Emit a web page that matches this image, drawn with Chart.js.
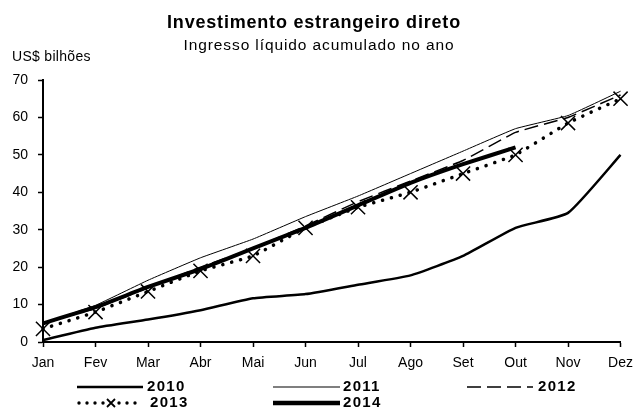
<!DOCTYPE html>
<html>
<head>
<meta charset="utf-8">
<script src="https://cdn.jsdelivr.net/npm/chart.js@4"></script>
<style>
body{margin:0;background:#fff;}
#wrap{position:relative;width:641px;height:414px;font-family:"Liberation Sans",Arial,sans-serif;color:#000;}
#title{position:absolute;left:0;width:628px;top:12px;text-align:center;font-weight:bold;font-size:18px;letter-spacing:0.8px;}
#sub{position:absolute;left:0;width:638px;top:36px;text-align:center;font-size:15.5px;letter-spacing:0.9px;}
#unit{position:absolute;left:12px;top:48px;font-size:14px;letter-spacing:0.3px;}
canvas{position:absolute;left:0;top:0;}
</style>
</head>
<body>
<div id="wrap">
<canvas id="c" width="641" height="414"></canvas>
<div id="title">Investimento estrangeiro direto</div>
<div id="sub">Ingresso líquido acumulado no ano</div>
<div id="unit">US$ bilhões</div>
</div>
<script>
let months = ['Jan','Fev','Mar','Abr','Mai','Jun','Jul','Ago','Set','Out','Nov','Dez'];
let y2010 = [0.5, 3.8, 6, 8.5, 11.7, 12.8, 15.3, 17.8, 23, 30.5, 34.5, 50];
let y2011 = [5, 9.8, 16.5, 22.5, 27.5, 33.5, 39, 45, 51, 57, 60.5, 67];
let y2012 = [5, 9, 14.5, 20, 25, 31, 37.5, 43, 48.5, 56, 60, 66];
let y2013 = [3.5, 8, 13.5, 19, 23, 30.5, 36, 40, 45, 50, 58.5, 65];
let y2014 = [5, 9.3, 14.7, 19.5, 25, 30.5, 36.5, 42.5, 47.5, 52, null, null];
let yTicks = [0, 10, 20, 30, 40, 50, 60, 70];

let fontName = '"Liberation Sans", Arial, sans-serif';

// legend drawn by hand, two rows under the axis
const legendPlugin = {
id: 'handLegend',
afterDraw(chart){
const c = chart.ctx;
const ds = chart.data.datasets;
c.save();
c.fillStyle = '#000';
c.strokeStyle = '#000';
c.font = 'bold 15px ' + fontName;
c.letterSpacing = '1.3px';
c.textBaseline = 'middle';

function line(x1, x2, y, w, dash){
c.beginPath();
c.lineWidth = w;
c.setLineDash(dash || []);
c.moveTo(x1, y);
c.lineTo(x2, y);
c.stroke();
c.setLineDash([]);
}

// 2010
line(77, 143, 387, 2.5);
c.fillText(ds[0].label, 147, 387);
// 2011
line(273, 340, 387, 1.2);
c.fillText(ds[1].label, 343, 387);
// 2012
line(467, 533, 387, 1.5, [14, 6]);
c.fillText(ds[2].label, 538, 387);
// 2013
for(let x = 79; x <= 140; x += 8){
if(Math.abs(x - 111) < 4) continue;
c.beginPath();
c.arc(x, 403, 1.7, 0, Math.PI*2);
c.fill();
}
c.beginPath();
c.lineWidth = 1.8;
c.moveTo(107, 399); c.lineTo(115, 407);
c.moveTo(115, 399); c.lineTo(107, 407);
c.stroke();
c.fillText(ds[3].label, 150, 403);
// 2014
line(273, 340, 403, 4.5);
c.fillText(ds[4].label, 343, 403);
c.restore();
}
};

const ctx = document.getElementById('c').getContext('2d');

new Chart(ctx, {
type: 'line',
data: {
labels: months,
datasets: [
{label: '2010', data: y2010, borderColor: '#000', borderWidth: 2.5, pointRadius: 0, tension: 0.15},
{label: '2011', data: y2011, borderColor: '#000', borderWidth: 1, pointRadius: 0, tension: 0.1},
{label: '2012', data: y2012, borderColor: '#000', borderWidth: 1.5, borderDash: [14, 6], pointRadius: 0, tension: 0.1},
{label: '2013', data: y2013, borderColor: '#000', borderWidth: 3.5, borderDash: [0.1, 9], borderCapStyle: 'round',
pointStyle: 'crossRot', pointRadius: 10, pointBorderWidth: 1.5, pointBorderColor: '#000', tension: 0.1},
{label: '2014', data: y2014, borderColor: '#000', borderWidth: 4, pointRadius: 0, tension: 0.1}
]
},
options: {
responsive: false,
animation: false,
layout: {padding: {top: 80, right: 18, left: 0, bottom: 0}},
plugins: {legend: {display: false}, tooltip: {enabled: false}},
scales: {
x: {
offset: false,
afterFit: s => { s.height = 72; },
grid: {drawOnChartArea: false, drawTicks: true, tickLength: 5, tickColor: '#000', tickWidth: 1.5},
border: {color: '#000', width: 2},
ticks: {color: '#000', font: {family: fontName, size: 14}, padding: 8, maxRotation: 0, autoSkip: false}
},
y: {
min: 0, max: 70,
afterFit: s => { s.width = 43; },
afterBuildTicks: s => { s.ticks = yTicks.map(v => ({value: v})); },
grid: {drawOnChartArea: false, drawTicks: true, tickLength: 5, tickColor: '#000', tickWidth: 1.5},
border: {color: '#000', width: 2},
ticks: {color: '#000', font: {family: fontName, size: 14}, padding: 10}
}
}
},
plugins: [legendPlugin]
});
</script>
</body>
</html>
